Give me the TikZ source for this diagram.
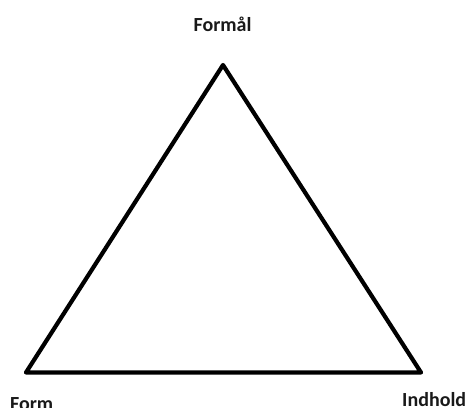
\documentclass[tikz,border=0pt]{standalone}
\usepackage{fontspec}
\setmainfont{Carlito}
\usetikzlibrary{positioning}

\begin{document}
\begin{tikzpicture}[
    x=1bp, y=-1bp,
    lbl/.style={font=\fontsize{20bp}{24bp}\selectfont\bfseries, inner sep=0pt, text=black!90},
    edge/.style={line width=4.2bp, line join=round, line cap=round}
  ]
    \useasboundingbox (0,0) rectangle (469,407);

    \coordinate (apex) at (223,65);
    \coordinate (left) at (26,372.5);
    \coordinate (right) at (421,372.5);

    \node[lbl, anchor=base] (formaal) at (222.5,31) {Formål};
    \node[lbl, anchor=base west] (form) at (10,410) {Form};
    \node[lbl, anchor=base west] (indhold) at (402,406) {Indhold};

    \draw[edge] (apex) -- (right) -- (left) -- cycle;
  \end{tikzpicture}
\end{document}
